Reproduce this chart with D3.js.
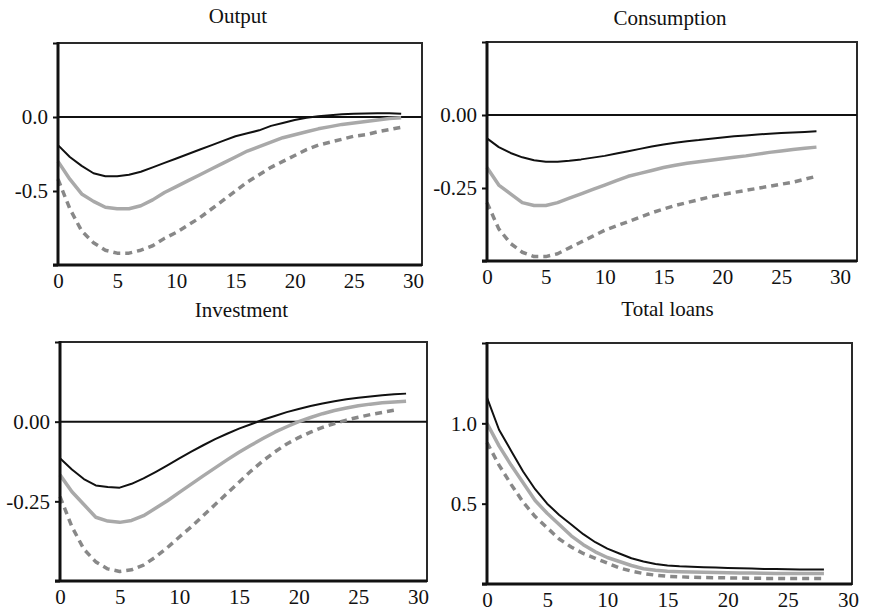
<!DOCTYPE html>
<html>
<head>
<meta charset="utf-8">
<script src="https://cdn.jsdelivr.net/npm/d3@7"></script>
<style>
  body { margin: 0; background: #fff; }
  text { font-family: "Liberation Serif", "DejaVu Serif", serif; fill: #111; }
</style>
</head>
<body>
<script>
// quarters after the shock
const periods = d3.range(0, 30);
const xTicks = [0, 5, 10, 15, 20, 25, 30];

const outputBlack = [-0.19,-0.27,-0.33,-0.38,-0.40,-0.40,-0.39,-0.37,-0.34,-0.31,-0.28,-0.25,-0.22,-0.19,-0.16,
  -0.13,-0.11,-0.09,-0.06,-0.04,-0.02,-0.005,0.005,0.012,0.018,0.022,0.024,0.025,0.025,0.022];
const outputGray = [-0.30,-0.42,-0.52,-0.57,-0.61,-0.62,-0.62,-0.60,-0.56,-0.51,-0.47,-0.43,-0.39,-0.35,-0.31,
  -0.27,-0.23,-0.20,-0.17,-0.14,-0.12,-0.10,-0.08,-0.065,-0.05,-0.04,-0.03,-0.02,-0.01,-0.005];
const outputDash = [-0.42,-0.62,-0.77,-0.85,-0.90,-0.92,-0.92,-0.90,-0.87,-0.82,-0.78,-0.73,-0.68,-0.62,-0.56,
  -0.50,-0.44,-0.39,-0.34,-0.30,-0.26,-0.22,-0.19,-0.17,-0.15,-0.13,-0.12,-0.10,-0.085,-0.07];

const consBlack = [-0.08,-0.11,-0.13,-0.145,-0.155,-0.16,-0.16,-0.157,-0.152,-0.146,-0.14,-0.132,-0.124,-0.116,-0.108,
  -0.101,-0.095,-0.09,-0.086,-0.081,-0.077,-0.073,-0.07,-0.067,-0.064,-0.062,-0.06,-0.058,-0.056];
const consGray = [-0.18,-0.24,-0.27,-0.30,-0.31,-0.31,-0.30,-0.285,-0.27,-0.255,-0.24,-0.225,-0.21,-0.20,-0.19,
  -0.18,-0.172,-0.165,-0.16,-0.155,-0.15,-0.145,-0.14,-0.134,-0.128,-0.123,-0.118,-0.114,-0.11];
const consDash = [-0.30,-0.39,-0.44,-0.47,-0.485,-0.485,-0.475,-0.455,-0.435,-0.415,-0.395,-0.38,-0.365,-0.35,-0.335,
  -0.322,-0.31,-0.30,-0.29,-0.28,-0.272,-0.265,-0.258,-0.251,-0.244,-0.237,-0.23,-0.22,-0.21];

const invBlack = [-0.115,-0.15,-0.18,-0.20,-0.205,-0.207,-0.195,-0.178,-0.158,-0.137,-0.115,-0.094,-0.074,-0.055,-0.038,
  -0.022,-0.008,0.006,0.018,0.03,0.04,0.049,0.057,0.064,0.07,0.075,0.079,0.083,0.086,0.088];
const invGray = [-0.167,-0.22,-0.26,-0.30,-0.312,-0.316,-0.31,-0.295,-0.272,-0.248,-0.222,-0.196,-0.17,-0.145,-0.12,
  -0.096,-0.074,-0.053,-0.033,-0.016,0.0,0.013,0.025,0.035,0.043,0.05,0.055,0.059,0.062,0.064];
const invDash = [-0.235,-0.33,-0.40,-0.44,-0.462,-0.47,-0.465,-0.45,-0.425,-0.395,-0.362,-0.33,-0.295,-0.26,-0.225,
  -0.19,-0.155,-0.123,-0.095,-0.07,-0.05,-0.033,-0.018,-0.006,0.005,0.014,0.022,0.029,0.036];

const loansBlack = [1.16,0.96,0.83,0.70,0.59,0.50,0.43,0.37,0.31,0.26,0.22,0.19,0.16,0.14,0.125,
  0.115,0.11,0.107,0.104,0.102,0.10,0.098,0.096,0.094,0.093,0.092,0.091,0.09,0.09];
const loansGray = [1.0,0.86,0.74,0.63,0.52,0.44,0.37,0.30,0.245,0.20,0.165,0.14,0.115,0.095,0.085,
  0.08,0.077,0.075,0.073,0.071,0.07,0.069,0.068,0.067,0.066,0.066,0.065,0.065,0.065];
const loansDash = [0.88,0.74,0.62,0.51,0.42,0.35,0.28,0.23,0.19,0.16,0.13,0.10,0.08,0.065,0.055,
  0.048,0.045,0.042,0.04,0.039,0.038,0.037,0.036,0.035,0.035,0.034,0.034,0.034,0.034];

const panels = [
  { title: "Output", titleY: 23, box: [58, 43, 422, 265], xEnd: 413, yDomain: [-1, 0.5],
    yTicks: [-1, -0.5, 0, 0.5], yLabels: [-0.5, 0], fmt: ".1f", zero: true,
    series: [outputDash, outputGray, outputBlack] },
  { title: "Consumption", titleY: 25, box: [487, 42, 857, 261], xEnd: 840, yDomain: [-0.5, 0.25],
    yTicks: [-0.5, -0.25, 0, 0.25], yLabels: [-0.25, 0], fmt: ".2f", zero: true,
    series: [consDash, consGray, consBlack] },
  { title: "Investment", titleY: 317, box: [60, 342, 427, 581], xEnd: 418, yDomain: [-0.5, 0.25],
    yTicks: [-0.5, -0.25, 0, 0.25], yLabels: [-0.25, 0], fmt: ".2f", zero: true,
    series: [invDash, invGray, invBlack] },
  { title: "Total loans", titleY: 316, box: [487, 343, 852, 584], xEnd: 848, yDomain: [0, 1.5],
    yTicks: [0, 0.5, 1, 1.5], yLabels: [0.5, 1], fmt: ".1f", zero: false,
    series: [loansDash, loansGray, loansBlack] }
];

const styles = [
  { stroke: "#888", width: 3.5, dash: "7,5" },
  { stroke: "#a9a9a9", width: 3.5, dash: null },
  { stroke: "#111", width: 2, dash: null }
];

const svg = d3.select("body").append("svg")
  .attr("width", 871).attr("height", 615);

panels.forEach(p => {
  const [l, t, r, b] = p.box;
  const x = d3.scaleLinear().domain([0, 30]).range([l, p.xEnd]);
  const y = d3.scaleLinear().domain(p.yDomain).range([b, t]);
  const g = svg.append("g");

  // frame
  g.append("rect").attr("x", l).attr("y", t).attr("width", r - l).attr("height", b - t)
    .attr("fill", "none").attr("stroke", "#2a2a2a").attr("stroke-width", 2);

  if (p.zero) {
    g.append("line").attr("x1", l).attr("x2", r).attr("y1", y(0)).attr("y2", y(0))
      .attr("stroke", "#111").attr("stroke-width", 2);
  }

  const line = d3.line().x((d, i) => x(periods[i])).y(d => y(d));
  p.series.forEach((s, k) => {
    const st = styles[k];
    g.append("path").datum(s).attr("d", line)
      .attr("fill", "none").attr("stroke", st.stroke).attr("stroke-width", st.width)
      .attr("stroke-dasharray", st.dash).attr("stroke-linejoin", "round");
  });

  // left axis, plain hyphen as minus like the original
  const fmt = d3.format(p.fmt);
  const yAxis = d3.axisLeft(y).tickValues(p.yTicks).tickSize(5).tickPadding(5)
    .tickFormat(v => p.yLabels.includes(v) ? fmt(v).replace("\u2212", "-") : "");
  const ya = g.append("g").attr("transform", `translate(${l},0)`).call(yAxis);
  ya.select(".domain").remove();
  ya.selectAll("line").attr("stroke", "#111").attr("stroke-width", 2);
  ya.selectAll("text").attr("font-size", 21).style("font-family", "Liberation Serif");

  // bottom axis
  const xAxis = d3.axisBottom(x).tickValues(xTicks).tickSize(0).tickPadding(8);
  const xa = g.append("g").attr("transform", `translate(0,${b})`).call(xAxis);
  xa.select(".domain").remove();
  xa.selectAll("text").attr("font-size", 21).style("font-family", "Liberation Serif");

  g.append("line").attr("x1", l - 5).attr("x2", r).attr("y1", b).attr("y2", b)
    .attr("stroke", "#111").attr("stroke-width", 3);
  g.append("line").attr("x1", l).attr("x2", l).attr("y1", t - 1).attr("y2", b + 1)
    .attr("stroke", "#111").attr("stroke-width", 3);

  g.append("text").attr("x", (l + r) / 2 - 2).attr("y", p.titleY)
    .attr("text-anchor", "middle").attr("font-size", 21).text(p.title);
});
</script>
</body>
</html>
